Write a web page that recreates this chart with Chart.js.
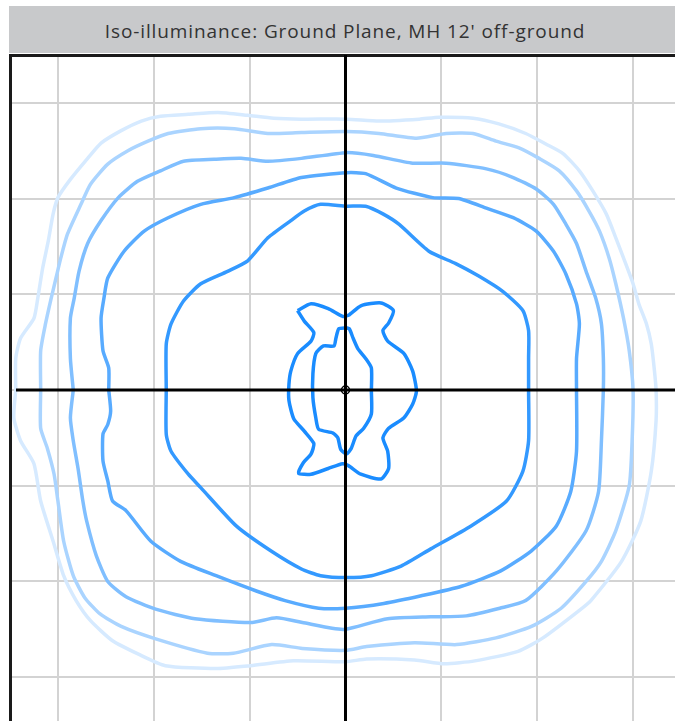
<!DOCTYPE html>
<html>
<head>
  <meta charset="UTF-8">
  <title>Iso-illuminance</title>
  <script src="https://cdn.jsdelivr.net/npm/chart.js"></script>
  <style>
    body {
      margin: 0;
      background: #fff;
      overflow: hidden;
      width: 675px;
      height: 721px;
      position: relative;
    }
    #head {
      position: absolute;
      left: 9px;
      top: 6px;
      width: 672px;
      height: 47px;
      line-height: 51px;
      background: #c8c9cb;
      color: #333;
      font-family: "Open Sans", sans-serif;
      font-size: 19px;
      letter-spacing: 0.9px;
      text-align: center;
      overflow: hidden;
    }
    #wrap {
      position: absolute;
      left: 0;
      top: 0;
    }
  </style>
</head>
<body>
  <div id="head">Iso-illuminance: Ground Plane, MH 12' off-ground</div>
  <div id="wrap"><canvas id="plot" width="700" height="740"></canvas></div>

  <script>
  // grid ticks (grid units, both axes)
  const gridTicks = [-3, -2, -1, 0, 1, 2, 3];

  // contour lines, outermost (lightest) first, [x, y]
  const contour1 = [[-3.44,0],[-3.44,0.33],[-3.39,0.54],[-3.25,0.75],[-3.21,0.96],[-3.16,1.27],[-3.10,1.56],[-3.05,1.84],
    [-3.00,2.01],[-2.87,2.20],[-2.69,2.42],[-2.55,2.58],[-2.34,2.71],[-2.13,2.81],[-1.93,2.86],[-1.64,2.88],[-1.33,2.90],
    [-1.02,2.87],[-0.75,2.84],[-0.46,2.83],[0.01,2.83],[0.35,2.81],[0.77,2.83],[0.98,2.85],[1.33,2.84],[1.60,2.78],
    [1.88,2.68],[2.09,2.57],[2.27,2.47],[2.44,2.29],[2.58,2.08],[2.72,1.84],[2.82,1.59],[2.90,1.38],[3.00,1.11],
    [3.06,0.90],[3.14,0.69],[3.19,0.48],[3.22,0.23],[3.24,0],[3.24,-0.32],[3.19,-0.85],[3.08,-1.37],[2.88,-1.79],
    [2.56,-2.20],[2.43,-2.31],[2.06,-2.59],[1.80,-2.73],[1.35,-2.83],[1.03,-2.86],[0.72,-2.82],[0.22,-2.81],[0.00,-2.84],
    [-0.54,-2.83],[-0.99,-2.88],[-1.35,-2.91],[-1.88,-2.88],[-2.16,-2.76],[-2.43,-2.62],[-2.66,-2.41],[-2.81,-2.20],
    [-2.94,-1.94],[-3.05,-1.58],[-3.18,-1.16],[-3.25,-0.77],[-3.39,-0.53],[-3.46,-0.29]];

  const contour2 = [[-3.18,0],[-3.18,0.41],[-3.13,0.69],[-3.07,0.96],[-3.02,1.17],[-2.97,1.38],[-2.90,1.63],[-2.76,1.94],
    [-2.66,2.15],[-2.48,2.36],[-2.27,2.50],[-2.06,2.60],[-1.85,2.68],[-1.51,2.73],[-1.16,2.73],[-0.81,2.68],[-0.46,2.69],
    [0.01,2.70],[0.35,2.68],[0.74,2.63],[1.05,2.68],[1.33,2.68],[1.57,2.60],[1.81,2.53],[2.02,2.42],[2.23,2.29],
    [2.41,2.08],[2.54,1.87],[2.65,1.66],[2.75,1.38],[2.82,1.11],[2.90,0.75],[2.96,0.41],[3.00,0],[2.99,-0.53],
    [2.96,-1.00],[2.82,-1.47],[2.67,-1.79],[2.51,-2.00],[2.25,-2.28],[1.94,-2.47],[1.57,-2.59],[1.16,-2.66],[0.72,-2.64],
    [0.22,-2.68],[0.00,-2.72],[-0.45,-2.70],[-0.77,-2.66],[-1.17,-2.75],[-1.44,-2.75],[-1.98,-2.60],[-2.34,-2.47],
    [-2.56,-2.34],[-2.72,-2.17],[-2.84,-1.94],[-2.94,-1.58],[-3.00,-1.16],[-3.04,-0.88],[-3.11,-0.61],[-3.18,-0.40]];

  const contour3 = [[-2.84,0],[-2.87,0.33],[-2.87,0.75],[-2.83,0.96],[-2.78,1.24],[-2.69,1.53],[-2.55,1.77],[-2.37,2.01],
    [-2.17,2.18],[-1.93,2.29],[-1.69,2.39],[-1.37,2.41],[-1.09,2.42],[-0.81,2.39],[-0.46,2.42],[0.01,2.48],[0.29,2.45],
    [0.70,2.37],[1.05,2.37],[1.47,2.31],[1.75,2.22],[1.99,2.10],[2.17,1.94],[2.30,1.73],[2.41,1.53],[2.51,1.24],
    [2.61,0.96],[2.67,0.69],[2.69,0.33],[2.69,0],[2.67,-0.53],[2.64,-1.06],[2.51,-1.47],[2.20,-1.89],[1.88,-2.20],
    [1.61,-2.28],[1.26,-2.36],[0.89,-2.37],[0.44,-2.39],[0.00,-2.50],[-0.14,-2.49],[-0.45,-2.43],[-0.72,-2.38],
    [-0.99,-2.43],[-1.57,-2.39],[-1.98,-2.29],[-2.29,-2.16],[-2.48,-2.00],[-2.60,-1.73],[-2.70,-1.37],[-2.74,-1.16],
    [-2.79,-0.82],[-2.84,-0.53],[-2.87,-0.29]];

  const contour4 = [[-2.47,0],[-2.47,0.23],[-2.53,0.41],[-2.55,0.75],[-2.52,0.96],[-2.48,1.17],[-2.31,1.45],[-2.10,1.66],
    [-1.85,1.80],[-1.51,1.94],[-1.16,2.01],[-0.81,2.11],[-0.46,2.22],[0.01,2.27],[0.21,2.26],[0.53,2.11],[0.91,2.01],
    [1.18,2.00],[1.47,1.90],[1.75,1.80],[1.99,1.66],[2.17,1.45],[2.30,1.21],[2.41,0.90],[2.44,0.69],[2.41,0.33],
    [2.41,0],[2.41,-0.64],[2.35,-1.06],[2.20,-1.42],[1.94,-1.68],[1.62,-1.89],[1.21,-2.05],[0.79,-2.15],[0.40,-2.23],
    [0.00,-2.28],[-0.28,-2.28],[-0.63,-2.20],[-0.93,-2.10],[-1.35,-1.94],[-1.72,-1.79],[-2.03,-1.58],[-2.29,-1.26],
    [-2.43,-1.16],[-2.48,-0.95],[-2.53,-0.74],[-2.53,-0.46],[-2.48,-0.36],[-2.45,-0.22]];

  const contour5 = [[-1.87,0],[-1.87,0.48],[-1.82,0.69],[-1.69,0.93],[-1.51,1.11],[-1.23,1.24],[-1.02,1.35],[-0.81,1.59],
    [-0.57,1.77],[-0.43,1.87],[-0.26,1.94],[0.01,1.92],[0.21,1.92],[0.39,1.84],[0.56,1.73],[0.87,1.45],[1.15,1.32],
    [1.39,1.19],[1.64,1.03],[1.85,0.83],[1.91,0.62],[1.91,0.33],[1.91,0],[1.91,-0.53],[1.85,-0.85],[1.68,-1.16],
    [1.31,-1.42],[0.89,-1.66],[0.58,-1.84],[0.27,-1.94],[0.01,-1.96],[-0.26,-1.94],[-0.46,-1.87],[-0.78,-1.68],
    [-1.14,-1.42],[-1.51,-1.02],[-1.64,-0.88],[-1.82,-0.64],[-1.87,-0.46]];

  const contour6 = [[-0.50,0.83],[-0.36,0.90],[-0.18,0.85],[-0.03,0.77],[0.03,0.78],[0.16,0.88],[0.37,0.91],[0.50,0.83],
    [0.45,0.70],[0.39,0.62],[0.44,0.51],[0.61,0.38],[0.70,0.20],[0.74,-0.01],[0.70,-0.15],[0.61,-0.29],[0.45,-0.40],
    [0.39,-0.50],[0.44,-0.64],[0.45,-0.82],[0.37,-0.93],[0.16,-0.88],[0.03,-0.79],[-0.03,-0.77],[-0.18,-0.82],
    [-0.36,-0.88],[-0.49,-0.87],[-0.44,-0.76],[-0.36,-0.67],[-0.33,-0.56],[-0.43,-0.43],[-0.54,-0.30],[-0.59,-0.11],
    [-0.59,0.06],[-0.57,0.20],[-0.50,0.38],[-0.36,0.51],[-0.33,0.60],[-0.43,0.72]];

  const contour7 = [[0.01,0.65],[0.04,0.64],[0.08,0.54],[0.13,0.43],[0.21,0.33],[0.27,0.23],[0.27,-0.01],[0.27,-0.25],
    [0.19,-0.40],[0.11,-0.48],[0.06,-0.61],[0.01,-0.67],[-0.05,-0.62],[-0.08,-0.50],[-0.13,-0.45],[-0.28,-0.41],
    [-0.31,-0.29],[-0.34,-0.08],[-0.34,0.17],[-0.31,0.38],[-0.23,0.46],[-0.12,0.46],[-0.10,0.54],[-0.07,0.64]];

  const contours = [contour1, contour2, contour3, contour4, contour5, contour6, contour7];
  const contourColors = ['#d6eaff', '#aad4ff', '#80bfff', '#58abff', '#3399ff', '#1a8cff', '#1a8cff'];

  // luminaire position
  const luminaire = [[0, 0]];

  function closedLoop(pts) {
    const out = pts.map(p => ({ x: p[0], y: p[1] }));
    out.push({ x: pts[0][0], y: pts[0][1] });
    return out;
  }

  const datasets = contours.map((c, i) => ({
    data: closedLoop(c),
    showLine: true,
    borderColor: contourColors[i],
    borderWidth: 3.5,
    pointRadius: 0,
    tension: 0.2,
    fill: false
  }));

  datasets.push({
    data: luminaire.map(p => ({ x: p[0], y: p[1] })),
    pointRadius: 4,
    borderColor: '#000',
    backgroundColor: 'rgba(0,0,0,0)',
    borderWidth: 1.5
  });

  // black axes through the origin, drawn above the contours
  const originAxes = {
    id: 'originAxes',
    afterDatasetsDraw(chart) {
      const ctx = chart.ctx;
      const a = chart.chartArea;
      const x0 = chart.scales.x.getPixelForValue(0);
      const y0 = chart.scales.y.getPixelForValue(0);
      ctx.save();
      ctx.strokeStyle = '#000';
      ctx.lineWidth = 3;
      ctx.beginPath();
      ctx.moveTo(a.left + 6, y0);
      ctx.lineTo(a.right, y0);
      ctx.moveTo(x0, a.top);
      ctx.lineTo(x0, a.bottom);
      ctx.stroke();
      ctx.restore();
    }
  };

  function gridScale(pos) {
    return {
      type: 'linear',
      position: pos,
      min: -3.5,
      max: 3.5,
      afterBuildTicks: s => { s.ticks = gridTicks.map(v => ({ value: v })); },
      ticks: { display: false },
      grid: {
        drawTicks: false,
        color: '#d3d3d3',
        lineWidth: 2
      },
      border: { display: true, color: '#1a1a1a', width: 3 }
    };
  }

  new Chart(document.getElementById('plot'), {
    type: 'scatter',
    data: { datasets: datasets },
    options: {
      responsive: false,
      devicePixelRatio: 1,
      animation: false,
      layout: { padding: { left: 10, top: 55, right: 19, bottom: 15 } },
      plugins: {
        legend: { display: false },
        tooltip: { enabled: false }
      },
      scales: {
        x: gridScale('top'),
        y: gridScale('left')
      }
    },
    plugins: [originAxes]
  });
  </script>
</body>
</html>
